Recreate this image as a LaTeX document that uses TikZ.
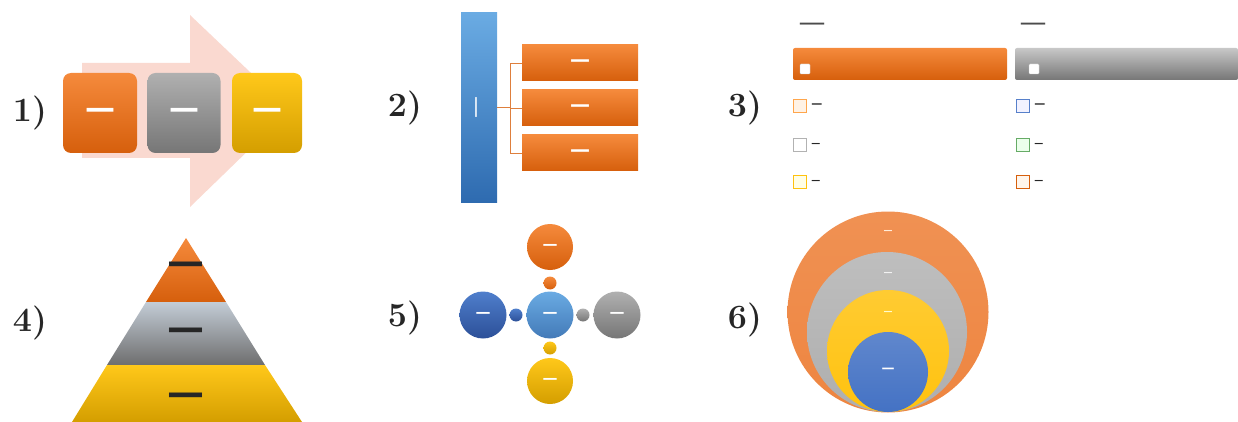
\documentclass[tikz,border=0pt]{standalone}
\usepackage{fontspec}
\newfontfamily\dashfont{DejaVu Sans}
\definecolor{orT}{HTML}{F58A3C}\definecolor{orB}{HTML}{D65F0C}
\definecolor{grT}{HTML}{B0B0B0}\definecolor{grB}{HTML}{767676}
\definecolor{yeT}{HTML}{FFC81A}\definecolor{yeB}{HTML}{D49E00}
\definecolor{blT}{HTML}{6AABE3}\definecolor{blB}{HTML}{2E6BB0}
\definecolor{dbT}{HTML}{4F7FCC}\definecolor{dbB}{HTML}{2C4F98}
\definecolor{pinkA}{HTML}{FAD9D0}
\definecolor{pgT}{HTML}{C3CCD6}\definecolor{pgB}{HTML}{6E6E6E}
\definecolor{oc}{HTML}{EE8540}\definecolor{gc}{HTML}{AEAEAE}
\definecolor{yc}{HTML}{FFC20E}\definecolor{bc}{HTML}{4472C4}
\tikzset{
  lbl/.style={font=\bfseries\fontsize{34}{40}\selectfont, text=black!85, inner sep=0},
  wdash/.style={text=white, font=\dashfont\bfseries\fontsize{#1}{#1}\selectfont, inner sep=0},
  kdash/.style={text=black!85, font=\dashfont\bfseries\fontsize{#1}{#1}\selectfont, inner sep=0},
  tile/.style={rounded corners=8pt, minimum height=80, inner sep=0},
  rowbox/.style={minimum width=116, minimum height=36, inner sep=0, top color=orT, bottom color=orB},
  conn/.style={draw=orB!80, line width=0.8pt},
  swatch/.style={minimum size=13, inner sep=0, line width=1.3pt},
  ball/.style={circle, inner sep=0, minimum size=#1},
}
\begin{document}
\begin{tikzpicture}[x=1pt,y=-1pt]
\useasboundingbox (0,0) rectangle (1238,422);
% ---------- 1)
\node[lbl] (l1) at (30,113) {1)};
\fill[pinkA] (82,63) -- (190,63) -- (190,15) -- (290,110) -- (190,207) -- (190,158) -- (82,158) -- cycle;
\node[tile, minimum width=74, top color=orT, bottom color=orB] (t1) at (100,113) {};
\node[tile, minimum width=73, top color=grT, bottom color=grB] (t2) at (184,113) {};
\node[tile, minimum width=70, top color=yeT, bottom color=yeB] (t3) at (267,113) {};
\node[wdash=30] at (t1) {—};
\node[wdash=30] at (t2) {—};
\node[wdash=30] at (t3) {—};
% ---------- 2)
\node[lbl] (l2) at (405,108) {2)};
\node[minimum width=36, minimum height=189, inner sep=0, top color=blT, bottom color=blB] (bar) at (479,107.5) {};
\node[text=white, font=\dashfont\fontsize{22}{22}\selectfont, inner sep=0, rotate=90] at (bar) {—};
\node[rowbox] (r1) at (580,63) {};
\node[rowbox] (r2) at (580,108) {};
\node[rowbox] (r3) at (580,153) {};
\foreach \r in {r1,r2,r3} \node[wdash=20] at (\r) {—};
\coordinate (j) at (510,107.5);
\draw[conn] (bar.east) -- (j);
\draw[conn] (r1.west) -| (j);
\draw[conn] (r2.west) -- (r2.west -| j);
\draw[conn] (r3.west) -| (j);
% ---------- 3)
\node[lbl] (l3) at (745,108) {3)};
\node[text=black!70, font=\dashfont\fontsize{27}{27}\selectfont, inner sep=0] (hd1) at (812,27) {—};
\node[text=black!70, font=\dashfont\fontsize{27}{27}\selectfont, inner sep=0] (hd2) at (1033,27) {—};
\node[minimum width=214, minimum height=32, inner sep=0, rounded corners=2pt, top color=orT, bottom color=orB] (hb1) at (900,64) {};
\node[minimum width=223, minimum height=32, inner sep=0, rounded corners=2pt, top color=grT!70, bottom color=grB] (hb2) at (1126.5,64) {};
\node[minimum size=10, inner sep=0, fill=white, draw=white!80!black, rounded corners=1pt] (sq1) at (805,69) {};
\node[minimum size=10, inner sep=0, fill=white, draw=white!80!black, rounded corners=1pt] (sq2) at (1034,69) {};
\node[swatch, draw=orange!70!white, fill=orange!10] (a1) at (800,106) {};
\node[swatch, draw=gray!60, fill=white] (a2) at (800,145) {};
\node[swatch, draw=yc, fill=yellow!10] (a3) at (800,182) {};
\node[swatch, draw=bc!90, fill=blue!5] (c1) at (1023,106) {};
\node[swatch, draw=green!45!black!60, fill=green!8] (c2) at (1023,145) {};
\node[swatch, draw=orB, fill=orange!8] (c3) at (1023,182) {};
\foreach \s in {a1,c1} \node[kdash=11, anchor=west] at ([xshift=4]\s.east) {—};
\foreach \s in {a2,a3,c2,c3} \node[kdash=9, anchor=west] at ([xshift=4]\s.east) {—};
% ---------- 4)
\node[lbl] (l4) at (30,323) {4)};
\shade[top color=orT, bottom color=orB] (186,238) -- (226,302) -- (146,302) -- cycle;
\shade[top color=pgT, bottom color=pgB] (146,302) -- (226,302) -- (265,365) -- (107,365) -- cycle;
\shade[top color=yeT, bottom color=yeB] (107,365) -- (265,365) -- (302,422) -- (72,422) -- cycle;
\node[kdash=37] (p1) at (186,268) {—};
\node[kdash=37] (p2) at (186,334) {—};
\node[kdash=37] (p3) at (186,399) {—};
% ---------- 5)
\node[lbl] (l5) at (405,318) {5)};
\node[ball=47, top color=blT, bottom color=blB!90] (cc) at (550,315) {};
\node[ball=46, top color=orT, bottom color=orB] (cn) at (550,247) {};
\node[ball=46, top color=yeT, bottom color=yeB] (cs) at (550,381) {};
\node[ball=47, top color=dbT, bottom color=dbB] (cw) at (483,315) {};
\node[ball=47, top color=grT, bottom color=grB] (ce) at (617,315) {};
\node[ball=13, top color=orT, bottom color=orB] (dn) at (550,283) {};
\node[ball=13, top color=yeT, bottom color=yeB] (ds) at (550,348) {};
\node[ball=13, top color=dbT, bottom color=dbB] (dw) at (516,315) {};
\node[ball=13, top color=grT, bottom color=grB] (de) at (583,315) {};
\foreach \c in {cc,cn,cs,cw,ce} \node[wdash=15] at (\c) {—};
% ---------- 6)
\node[lbl] (l6) at (745,320) {6)};
\node[ball=201, top color=oc!90, bottom color=oc] (o1) at (888,312) {};
\node[ball=160, top color=gc!80, bottom color=gc] (o2) at (887,332) {};
\node[ball=122, top color=yc!85, bottom color=yc] (o3) at (888,351) {};
\node[ball=80, top color=bc!85!white, bottom color=bc] (o4) at (888,372) {};
\node[text=white!85!orange, font=\dashfont\bfseries\fontsize{9}{9}\selectfont, inner sep=0] at (888,232) {—};
\node[text=white!90!gray, font=\dashfont\bfseries\fontsize{9}{9}\selectfont, inner sep=0] at (888,274) {—};
\node[text=white!80!yellow, font=\dashfont\bfseries\fontsize{9}{9}\selectfont, inner sep=0] at (888,313) {—};
\node[wdash=13] at (888,370) {—};
\end{tikzpicture}
\end{document}
